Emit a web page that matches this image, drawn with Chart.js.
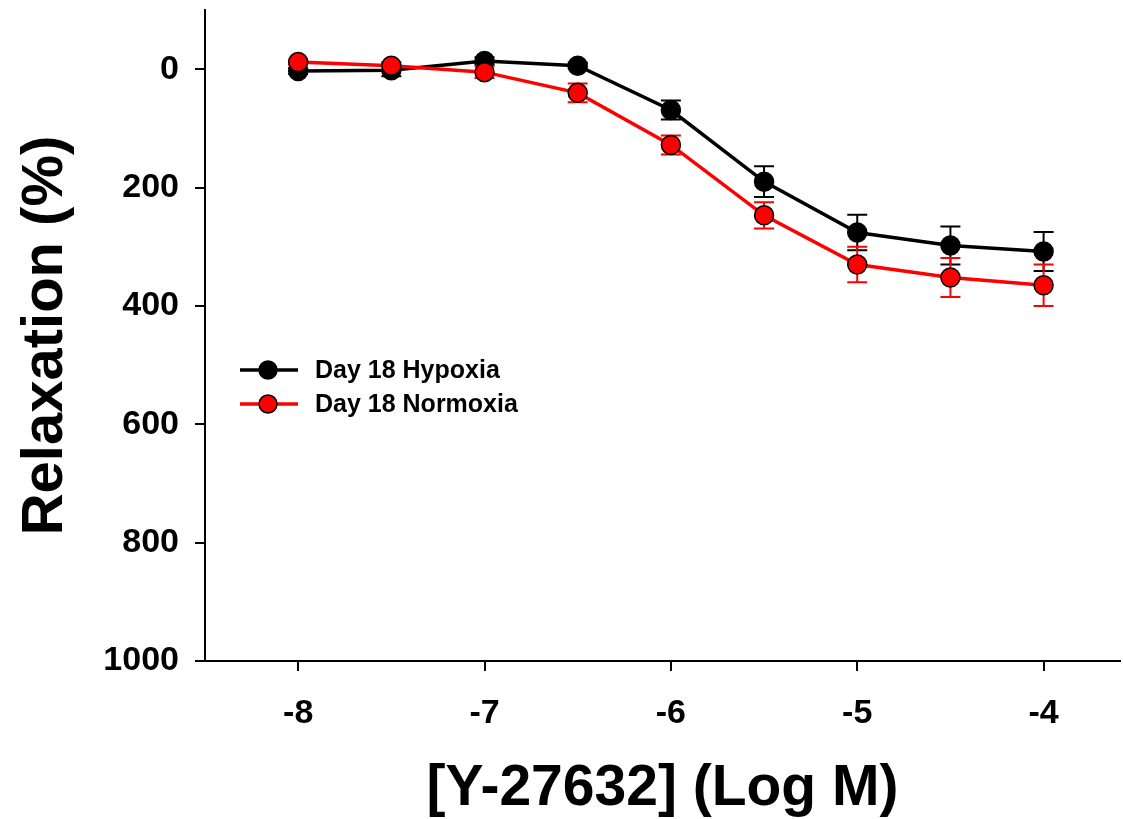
<!DOCTYPE html>
<html>
<head>
<meta charset="utf-8">
<script src="https://cdn.jsdelivr.net/npm/chart.js@4"></script>
<style>
  html, body { margin: 0; padding: 0; background: #fff; overflow: hidden; }
  #wrap { width: 1123px; height: 819px; }
  canvas { display: block; }
</style>
</head>
<body>
<div id="wrap"><canvas id="chart"></canvas></div>
<script>
// log concentration of Y-27632
const logDose = [-8, -7.5, -7, -6.5, -6, -5.5, -5, -4.5, -4];
const hypoxia = [3, 2, -14, -6, 69, 190, 276, 298, 308];
const hypoxiaErr = [5, 10, 6, 5, 16, 26, 30, 32, 33];
const normoxia = [-12, -6, 5, 40, 128, 247, 330, 352, 365];
const normoxiaErr = [4, 6, 10, 16, 16, 22, 30, 33, 35];
const xTicks = [-8, -7, -6, -5, -4];
const yTicks = [0, 200, 400, 600, 800, 1000];

const FONT = "'Liberation Sans', Arial, sans-serif";

const toPoints = ys => logDose.map((x, i) => ({ x: x, y: ys[i] }));

// error bars drawn right before each series so lines sit on top
const errorBars = {
    id: 'errorBars',
    beforeDatasetDraw(chart, args) {
        const ds = chart.data.datasets[args.index];
        const ctx = chart.ctx;
        const xs = chart.scales.x, ys = chart.scales.y;
        ctx.save();
        ctx.strokeStyle = ds.borderColor;
        ctx.lineWidth = 2;
        ds.data.forEach((p, i) => {
            const e = ds.errors[i];
            const px = xs.getPixelForValue(p.x);
            const top = ys.getPixelForValue(p.y - e);
            const bot = ys.getPixelForValue(p.y + e);
            ctx.beginPath();
            ctx.moveTo(px, top); ctx.lineTo(px, bot);
            ctx.moveTo(px - 10, top); ctx.lineTo(px + 10, top);
            ctx.moveTo(px - 10, bot); ctx.lineTo(px + 10, bot);
            ctx.stroke();
        });
        ctx.restore();
    }
};

// legend box inside the plot
const insideLegend = {
    id: 'insideLegend',
    afterDraw(chart) {
        const ctx = chart.ctx;
        const items = [chart.data.datasets[0], chart.data.datasets[1]];
        ctx.save();
        items.forEach((ds, i) => {
            const y = 370 + i * 34;
            ctx.strokeStyle = ds.borderColor;
            ctx.lineWidth = 3.5;
            ctx.beginPath();
            ctx.moveTo(240, y); ctx.lineTo(298, y);
            ctx.stroke();
            ctx.beginPath();
            ctx.arc(268, y, 9, 0, Math.PI * 2);
            ctx.fillStyle = ds.pointBackgroundColor;
            ctx.fill();
            ctx.lineWidth = 1.5;
            ctx.strokeStyle = '#000';
            ctx.stroke();
            ctx.fillStyle = '#000';
            ctx.font = 'bold 25px ' + FONT;
            ctx.textBaseline = 'middle';
            ctx.fillText(ds.label, 315, y + 1);
        });
        ctx.restore();
    }
};

new Chart(document.getElementById('chart'), {
    type: 'line',
    data: {
        datasets: [{
            label: 'Day 18 Hypoxia',
            data: toPoints(hypoxia),
            errors: hypoxiaErr,
            borderColor: '#000000',
            pointBackgroundColor: '#000000',
            pointBorderColor: '#000000',
            borderWidth: 3.5,
            pointRadius: 9.5,
            pointBorderWidth: 1.5,
            order: 1
        }, {
            label: 'Day 18 Normoxia',
            data: toPoints(normoxia),
            errors: normoxiaErr,
            borderColor: '#ff0000',
            pointBackgroundColor: '#ff0000',
            pointBorderColor: '#000000',
            borderWidth: 3.5,
            pointRadius: 9.5,
            pointBorderWidth: 1.5,
            order: 0
        }]
    },
    plugins: [errorBars, insideLegend],
    options: {
        responsive: true,
        maintainAspectRatio: false,
        animation: false,
        layout: { autoPadding: false, padding: { top: 10, right: 3, left: 0, bottom: 0 } },
        plugins: {
            legend: { display: false },
            tooltip: { enabled: false }
        },
        scales: {
            x: {
                type: 'linear',
                min: -8.5,
                max: -3.59,
                afterBuildTicks: s => { s.ticks = xTicks.map(v => ({ value: v })); },
                afterFit: s => { s.height = 158; s.paddingLeft = 0; s.paddingRight = 0; },
                grid: { drawOnChartArea: false, drawTicks: true, tickLength: 10, color: '#000', lineWidth: 2 },
                border: { display: true, color: '#000', width: 2 },
                ticks: {
                    color: '#000',
                    padding: 22,
                    maxRotation: 0,
                    font: { family: FONT, size: 34, weight: 'bold' }
                },
                title: {
                    display: true,
                    text: '[Y-27632] (Log M)',
                    color: '#000',
                    padding: { top: 0, bottom: -4 },
                    font: { family: FONT, size: 57, weight: 'bold' }
                }
            },
            y: {
                type: 'linear',
                reverse: true,
                min: -100,
                max: 1000,
                afterBuildTicks: s => { s.ticks = yTicks.map(v => ({ value: v })); },
                afterFit: s => { s.width = 205; s.paddingTop = 0; s.paddingBottom = 0; },
                grid: { drawOnChartArea: false, drawTicks: true, tickLength: 10, color: '#000', lineWidth: 2 },
                border: { display: true, color: '#000', width: 2 },
                ticks: {
                    color: '#000',
                    padding: 16,
                    callback: v => String(v),
                    font: { family: FONT, size: 34, weight: 'bold' }
                },
                title: {
                    display: true,
                    text: 'Relaxation (%)',
                    color: '#000',
                    padding: { top: 11, bottom: 0 },
                    font: { family: FONT, size: 58, weight: 'bold' }
                }
            }
        }
    }
});
</script>
</body>
</html>
